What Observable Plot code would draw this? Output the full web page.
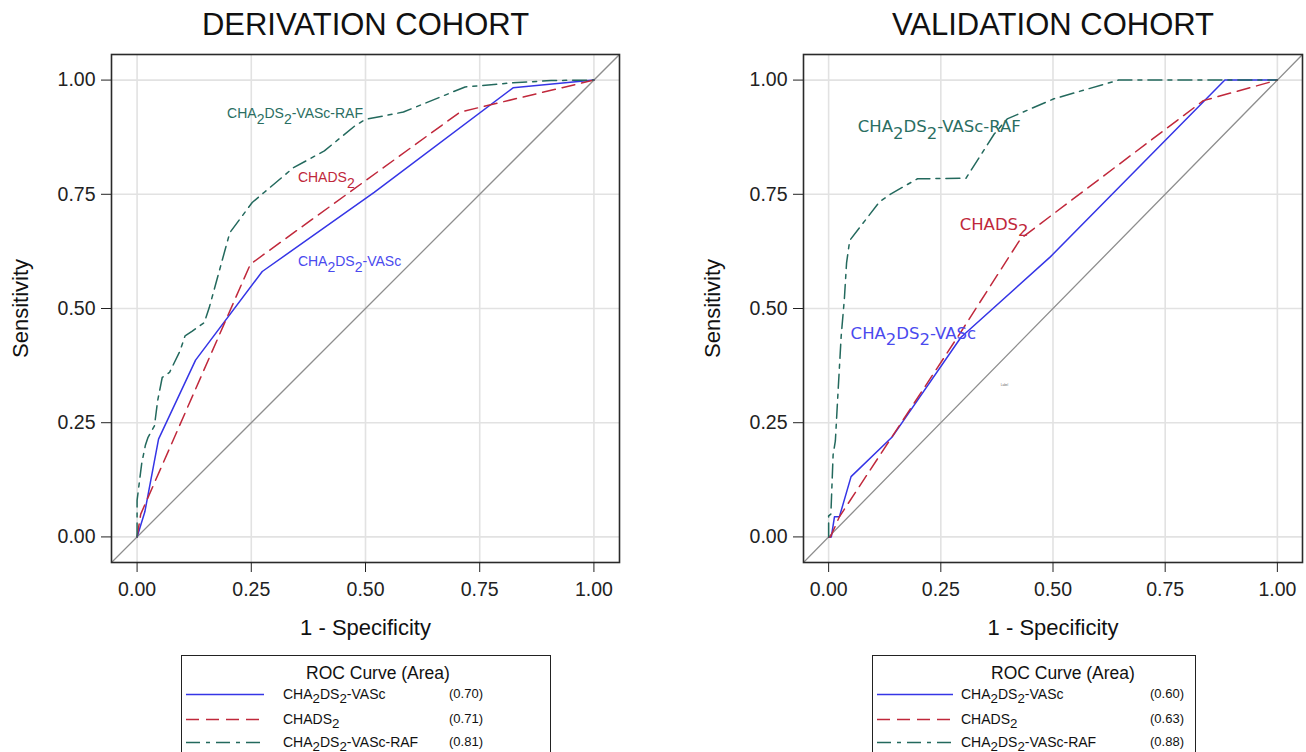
<!DOCTYPE html>
<html>
<head>
<meta charset="utf-8">
<script src="https://cdn.jsdelivr.net/npm/d3@7"></script>
<script src="https://cdn.jsdelivr.net/npm/@observablehq/plot@0.6"></script>
<style>
  html, body { margin: 0; padding: 0; background: #fff; }
  body { width: 1306px; height: 752px; position: relative; overflow: hidden; font-family: "Liberation Sans", Arial, sans-serif; color: #111; }
  .panel { position: absolute; top: 0; }
  .legend { position: absolute; top: 655px; height: 140px; border: 1.5px solid #222; box-sizing: border-box; background: #fff; }
  .legend .ttl { position: absolute; top: 7px; font-size: 17.5px; white-space: nowrap; }
  .legend .row { position: absolute; height: 20px; font-size: 14px; white-space: nowrap; }
  .legend .row span { position: absolute; top: 0; line-height: 20px; }
  .legend .row span.val { font-size: 13px; }
  .legend sub { font-size: 0.95em; vertical-align: -0.32em; line-height: 0; }
  .legend svg { position: absolute; top: 0; }
</style>
</head>
<body>
<script>
// ---------- data ----------
const tickValues = [0, 0.25, 0.5, 0.75, 1];
const seriesNames = ["CHA₂DS₂-VASc", "CHADS₂", "CHA₂DS₂-VASc-RAF"];
const seriesColors = ["#3535e6", "#c0283b", "#23695d"];
const labelColors = ["#4a4aee", "#c0283b", "#2a6e62"];
const seriesDash = [null, "13 7", "14 6 4 6"];

// Derivation cohort ROC points [1-specificity, sensitivity]
const derivVasc = [[0,0],[0.017,0.055],[0.047,0.214],[0.128,0.387],[0.274,0.581],[0.519,0.754],[0.823,0.983],[1,1]];
const derivChads = [[0,0],[0.008,0.05],[0.248,0.597],[0.707,0.93],[1,1]];
const derivRaf = [[0,0],[0,0.08],[0.005,0.12],[0.01,0.16],[0.018,0.2],[0.024,0.218],[0.038,0.243],[0.045,0.298],[0.055,0.349],[0.071,0.36],[0.094,0.407],[0.105,0.44],[0.12,0.45],[0.147,0.469],[0.158,0.502],[0.184,0.597],[0.203,0.666],[0.252,0.732],[0.278,0.754],[0.342,0.808],[0.41,0.845],[0.477,0.9],[0.5,0.914],[0.583,0.93],[0.718,0.985],[0.823,0.994],[0.906,0.999],[1,1]];
const derivAUC = [0.70, 0.71, 0.81];
const derivLabelPos = [[0.352,0.602],[0.352,0.786],[0.197,0.926]];

// Validation cohort ROC points
const validVasc = [[0,0],[0.006,0],[0.013,0.044],[0.024,0.044],[0.05,0.132],[0.141,0.218],[0.295,0.437],[0.494,0.613],[0.883,1],[1,1]];
const validChads = [[0,0],[0.004,0],[0.024,0.044],[0.295,0.449],[0.428,0.653],[0.835,0.955],[1,1]];
const validRaf = [[0,0],[0,0.046],[0.005,0.05],[0.01,0.18],[0.015,0.21],[0.02,0.3],[0.028,0.44],[0.035,0.52],[0.04,0.6],[0.047,0.649],[0.113,0.733],[0.139,0.751],[0.198,0.784],[0.306,0.785],[0.369,0.882],[0.398,0.915],[0.502,0.959],[0.646,1],[1,1]];
const validAUC = [0.60, 0.63, 0.88];
const validLabelPos = [[0.049,0.445],[0.292,0.684],[0.065,0.897]];
const validStrayLabel = ["Label"];
const validStrayPos = [[0.392,0.333]];

const titles = ["DERIVATION COHORT", "VALIDATION COHORT"];
const xLabel = "1 - Specificity";
const yLabel = "Sensitivity";
const legendTitle = "ROC Curve (Area)";

// ---------- helpers ----------
const domain = [-0.056, 1.056];
const fmt = d3.format(".2f");

function subscripts(root, shift) {
  root.querySelectorAll("text").forEach(t => {
    if (t.querySelector("tspan") || !t.textContent.includes("₂")) return;
    const parts = t.textContent.split("₂");
    t.textContent = "";
    const ns = "http://www.w3.org/2000/svg";
    let down = false;
    parts.forEach((p, i) => {
      if (p) {
        const ts = document.createElementNS(ns, "tspan");
        if (down) { ts.setAttribute("dy", -shift + "em"); down = false; }
        ts.textContent = p;
        t.appendChild(ts);
      }
      if (i < parts.length - 1) {
        const s = document.createElementNS(ns, "tspan");
        s.setAttribute("dy", (down ? 0 : shift) + "em");
        s.textContent = "2";
        t.appendChild(s);
        down = true;
      }
    });
  });
}

function makePanel({left, width, frameW, curves, labelPos, labelFont, labelSize, title, extra}) {
  const rows = curves.flatMap((pts, i) => pts.map(([x, y]) => ({x, y, s: i})));
  const labelData = labelPos.map(([x, y], i) => ({x, y, text: seriesNames[i], c: labelColors[i]}));
  const marks = [
    Plot.gridX(tickValues, {stroke: "#e2e2e2", strokeOpacity: 1, strokeWidth: 1.6}),
    Plot.gridY(tickValues, {stroke: "#e2e2e2", strokeOpacity: 1, strokeWidth: 1.6}),
    Plot.line(domain, {x: d => d, y: d => d, stroke: "#8e8e8e", strokeWidth: 1.3, clip: true}),
  ];
  curves.forEach((pts, i) => {
    marks.push(Plot.line(rows.filter(r => r.s === i), {
      x: "x", y: "y", stroke: seriesColors[i], strokeWidth: 1.5,
      strokeDasharray: seriesDash[i] || undefined, curve: "linear"
    }));
  });
  marks.push(Plot.text(labelData, {x: "x", y: "y", text: "text", fill: "c", textAnchor: "start",
    lineAnchor: "middle", fontSize: labelSize, fontFamily: labelFont}));
  if (extra) marks.push(extra);
  marks.push(
    Plot.frame({stroke: "#2a2a2a", strokeWidth: 1.6}),
    Plot.axisX(tickValues, {tickSize: 10, tickPadding: 10, tickFormat: fmt, fontSize: 19.5, label: null, stroke: "#222", fill: "#222"}),
    Plot.axisY(tickValues, {tickSize: 10, tickPadding: 6, tickFormat: fmt, fontSize: 19.5, label: null, stroke: "#222", fill: "#222"}),
    Plot.text([xLabel], {frameAnchor: "bottom", dy: 65, lineAnchor: "middle", textAnchor: "middle", fontSize: 22, fill: "#111"}),
    Plot.text([yLabel], {frameAnchor: "left", dx: -91, rotate: -90, lineAnchor: "middle", textAnchor: "middle", fontSize: 22, fill: "#111"}),
    Plot.text([title], {frameAnchor: "top", dy: -29, lineAnchor: "middle", textAnchor: "middle", fontSize: 31, fill: "#111"})
  );
  const svg = Plot.plot({
    width, height: 650,
    marginLeft: 111, marginRight: width - 111 - frameW, marginTop: 54, marginBottom: 88,
    x: {domain, label: null},
    y: {domain, label: null},
    style: {fontFamily: '"Liberation Sans", Arial, sans-serif', background: "transparent", overflow: "visible", maxWidth: "none"},
    marks
  });
  subscripts(svg, 0.38);
  const div = document.createElement("div");
  div.className = "panel";
  div.style.left = left + "px";
  div.appendChild(svg);
  document.body.appendChild(div);
}

function makeLegend({left, width, titleLeft, lineW, labelX, valueX, values}) {
  const box = document.createElement("div");
  box.className = "legend";
  box.style.left = left + "px";
  box.style.width = width + "px";
  const t = document.createElement("div");
  t.className = "ttl";
  t.style.left = titleLeft + "px";
  t.textContent = legendTitle;
  box.appendChild(t);
  const rowTops = [28, 53, 76];
  seriesNames.forEach((name, i) => {
    const row = document.createElement("div");
    row.className = "row";
    row.style.top = rowTops[i] + "px";
    row.style.left = "0px";
    row.style.width = width + "px";
    const dash = seriesDash[i] ? `stroke-dasharray="${seriesDash[i]}"` : "";
    row.innerHTML = `<svg width="${lineW + 10}" height="20" style="left:4px"><line x1="0" x2="${lineW}" y1="10.5" y2="10.5" stroke="${seriesColors[i]}" stroke-width="1.5" ${dash}/></svg>` +
      `<span style="left:${labelX}px">${name.replace(/₂/g, "<sub>2</sub>")}</span>` +
      `<span class="val" style="left:${valueX}px">(${fmt(values[i])})</span>`;
    box.appendChild(row);
  });
  document.body.appendChild(box);
}

makePanel({left: 0, width: 640, frameW: 508, curves: [derivVasc, derivChads, derivRaf], labelPos: derivLabelPos,
  labelFont: '"Liberation Sans", Arial, sans-serif', labelSize: 14, title: titles[0]});
makePanel({left: 692, width: 614, frameW: 499, curves: [validVasc, validChads, validRaf], labelPos: validLabelPos,
  labelFont: '"DejaVu Sans", Verdana, sans-serif', labelSize: 16.5, title: titles[1],
  extra: Plot.text(validStrayPos.map(([x, y], i) => ({x, y, t: validStrayLabel[i]})), {x: "x", y: "y", text: "t", fontSize: 3, fill: "#666"})});

makeLegend({left: 181, width: 370, titleLeft: 124, lineW: 78, labelX: 101, valueX: 267, values: derivAUC});
makeLegend({left: 872, width: 324, titleLeft: 118, lineW: 76, labelX: 88, valueX: 277, values: validAUC});
</script>
</body>
</html>
